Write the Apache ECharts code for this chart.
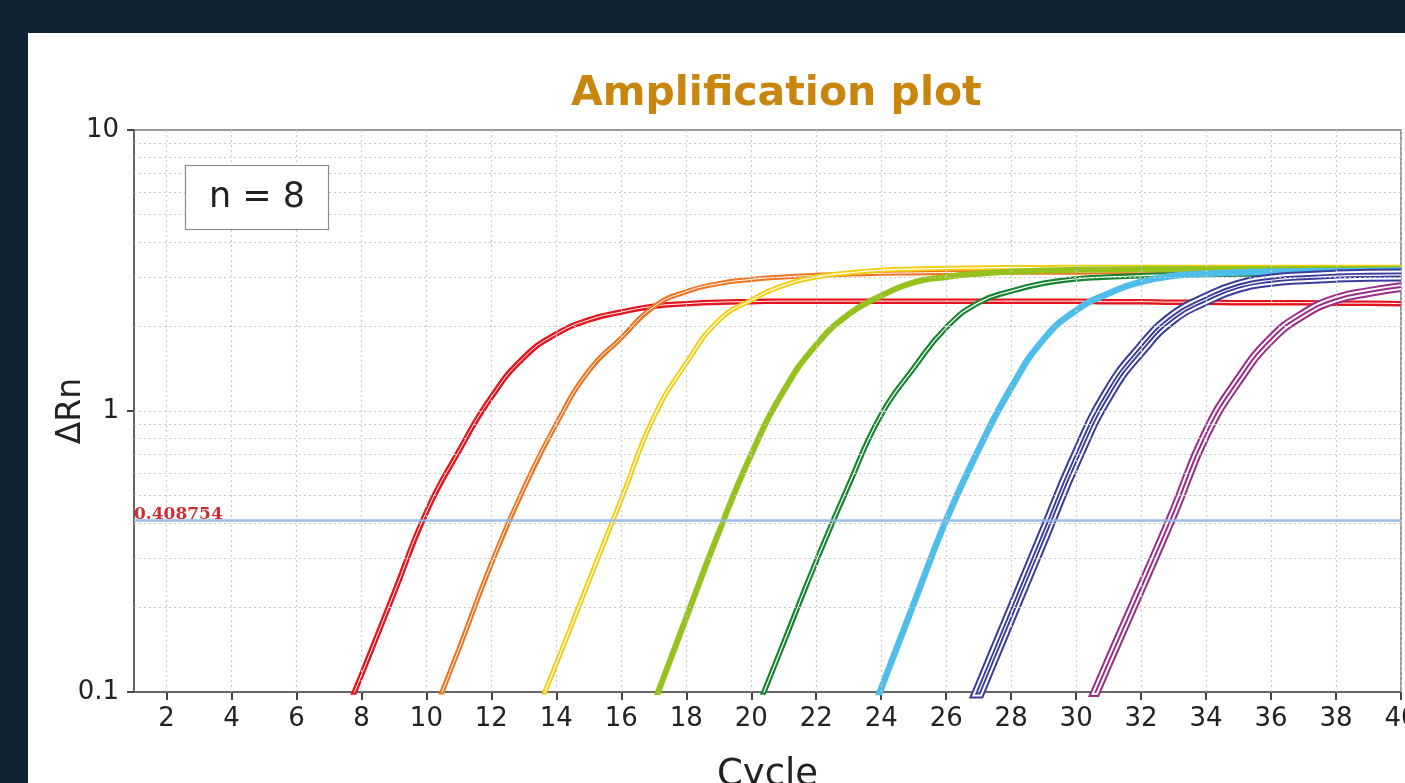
<!DOCTYPE html>
<html>
<head>
<meta charset="utf-8">
<title>Amplification plot</title>
<script src="https://cdn.jsdelivr.net/npm/echarts@6/dist/echarts.min.js"></script>
<style>
  html, body { margin: 0; padding: 0; background: #132233; width: 1405px; height: 783px; overflow: hidden; }
  #panel { position: absolute; left: 28px; top: 33px; width: 1377px; height: 750px; background: #fff; }
</style>
</head>
<body>
<div id="panel"></div>
<script>
// x = PCR cycle, y = delta Rn (log scale)
var cycles = [1, 2, 3, 4, 5, 6, 7, 8, 9, 10, 11, 12, 13, 14, 15, 16, 17, 18, 19, 20,
  21, 22, 23, 24, 25, 26, 27, 28, 29, 30, 31, 32, 33, 34, 35, 36, 37, 38, 39, 40];
var xTicks = [2, 4, 6, 8, 10, 12, 14, 16, 18, 20, 22, 24, 26, 28, 30, 32, 34, 36, 38, 40];
var yTicks = [0.1, 1, 10];
var minorGrid = [0.2, 0.3, 0.4, 0.5, 0.6, 0.7, 0.8, 0.9, 1, 2, 3, 4, 5, 6, 7, 8, 9];
var threshold = 0.408754;

// one read-off curve per dilution (null = not yet above the plot)
var red = [null, null, null, null, null, null, 0.06, 0.115, 0.224, 0.437,
  0.72, 1.12, 1.55, 1.88, 2.11, 2.25, 2.36, 2.41, 2.44, 2.45,
  2.46, 2.46, 2.46, 2.46, 2.46, 2.46, 2.46, 2.46, 2.46, 2.46,
  2.45, 2.45, 2.44, 2.44, 2.43, 2.43, 2.43, 2.42, 2.42, 2.41];
var orange = [null, null, null, null, null, null, null, null, null, 0.072,
  0.142, 0.286, 0.53, 0.90, 1.39, 1.82, 2.35, 2.66, 2.84, 2.94,
  3.0, 3.04, 3.07, 3.09, 3.10, 3.11, 3.11, 3.12, 3.12, 3.12,
  3.13, 3.13, 3.13, 3.13, 3.13, 3.13, 3.13, 3.13, 3.13, 3.13];
var yellow = [null, null, null, null, null, null, null, null, null, null,
  null, null, 0.065, 0.126, 0.248, 0.485, 0.95, 1.48, 2.10, 2.48,
  2.80, 3.0, 3.1, 3.17, 3.2, 3.22, 3.23, 3.24, 3.24, 3.25,
  3.25, 3.25, 3.25, 3.25, 3.25, 3.25, 3.25, 3.25, 3.25, 3.25];
var lime = [null, null, null, null, null, null, null, null, null, null,
  null, null, null, null, null, null, 0.091, 0.184, 0.37, 0.70,
  1.18, 1.72, 2.21, 2.57, 2.87, 3.0, 3.08, 3.13, 3.16, 3.18,
  3.19, 3.2, 3.2, 3.2, 3.2, 3.2, 3.2, 3.2, 3.2, 3.2];
var green = [null, null, null, null, null, null, null, null, null, null,
  null, null, null, null, null, null, null, null, null, 0.077,
  0.150, 0.292, 0.545, 0.97, 1.42, 1.98, 2.43, 2.67, 2.85, 2.95,
  3.0, 3.03, 3.05, 3.06, 3.07, 3.08, 3.08, 3.09, 3.09, 3.1];
var sky = [null, null, null, null, null, null, null, null, null, null,
  null, null, null, null, null, null, null, null, null, null,
  null, null, 0.052, 0.103, 0.206, 0.409, 0.73, 1.21, 1.80, 2.28,
  2.62, 2.88, 3.03, 3.08, 3.11, 3.13, 3.14, 3.15, 3.15, 3.16];
var navy = [null, null, null, null, null, null, null, null, null, null,
  null, null, null, null, null, null, null, null, null, null,
  null, null, null, null, null, 0.053, 0.1, 0.19, 0.36, 0.68,
  1.16, 1.66, 2.16, 2.50, 2.78, 2.92, 2.98, 3.02, 3.04, 3.05];
var purple = [null, null, null, null, null, null, null, null, null, null,
  null, null, null, null, null, null, null, null, null, null,
  null, null, null, null, null, null, null, null, null, 0.069,
  0.128, 0.235, 0.435, 0.83, 1.29, 1.80, 2.21, 2.50, 2.65, 2.76];

// stroke widths drawn on top of each other: colour, white, colour, ...
// gives the look of several replicate traces side by side
var groups = [
  { values: red, color: '#e3141b', layers: [5.5, 1] },
  { values: orange, color: '#ee7421', layers: [5, 1] },
  { values: yellow, color: '#f2cd0d', layers: [5, 1.2] },
  { values: lime, color: '#96c21e', layers: [6] },
  { values: green, color: '#17852e', layers: [5.5, 1.2] },
  { values: sky, color: '#4fbde9', layers: [6.5] },
  { values: navy, color: '#3a3c9c', layers: [13, 9, 5, 1.2] },
  { values: purple, color: '#9b2b89', layers: [10, 6, 2] }
];

var FONT = 'DejaVu Sans';

var chart = echarts.init(document.getElementById('panel'));

var series = [];

// dotted grid
series.push({
  type: 'line',
  data: [],
  silent: true,
  markLine: {
    silent: true,
    symbol: ['none', 'none'],
    label: { show: false },
    lineStyle: { color: '#c9c9c9', type: [2, 3], width: 1.2 },
    data: minorGrid.map(function (v) { return { yAxis: v }; })
      .concat(xTicks.map(function (v) { return { xAxis: v }; }))
  },
  z: 1
});

groups.forEach(function (g) {
  var pts = [];
  for (var i = 0; i < cycles.length; i++) {
    if (g.values[i] != null) pts.push([cycles[i], g.values[i]]);
  }
  g.layers.forEach(function (w, k) {
    series.push({
      type: 'line',
      data: pts,
      showSymbol: false,
      smooth: 0.5,
      silent: true,
      clip: true,
      lineStyle: { width: w, color: k % 2 ? '#ffffff' : g.color },
      z: 3
    });
  });
});

// threshold
series.push({
  type: 'line',
  data: [],
  silent: true,
  markLine: {
    silent: true,
    symbol: ['none', 'none'],
    lineStyle: { color: '#8db6e6', type: 'solid', width: 2.5, opacity: 0.9 },
    label: {
      show: true,
      position: 'insideStartTop',
      distance: [0, -3],
      formatter: String(threshold),
      color: '#c8161d',
      fontFamily: 'DejaVu Serif',
      fontWeight: 'bold',
      fontSize: 17
    },
    data: [{ yAxis: threshold }]
  },
  z: 5
});

var option = {
  animation: false,
  backgroundColor: '#ffffff',
  title: [{
    text: 'Amplification plot',
    left: 538,
    top: 36,
    textStyle: { color: '#c8860f', fontSize: 41, fontWeight: 'bold', fontFamily: FONT }
  }, {
    text: 'n = 8',
    left: 157,
    top: 132,
    padding: [15, 24],
    borderColor: '#8a8a8a',
    borderWidth: 1.2,
    backgroundColor: '#ffffff',
    textStyle: { color: '#222', fontSize: 35, fontWeight: 'normal', fontFamily: FONT },
    z: 10
  }],
  grid: {
    left: 106,
    top: 97,
    right: 4,
    bottom: 91,
    outerBoundsMode: 'none',
    containLabel: false,
    show: true,
    borderColor: '#7a7a7a',
    borderWidth: 1.5
  },
  xAxis: {
    type: 'value',
    min: 1,
    max: 40,
    name: 'Cycle',
    nameLocation: 'middle',
    nameGap: 65,
    nameTextStyle: { color: '#222', fontSize: 37, fontFamily: FONT },
    axisLine: { show: true, onZero: false, lineStyle: { color: '#666', width: 2 } },
    axisTick: { show: true, customValues: xTicks, length: 8, lineStyle: { color: '#444', width: 2 } },
    axisLabel: { customValues: xTicks, margin: 14, color: '#222', fontSize: 26, fontFamily: FONT },
    splitLine: { show: false }
  },
  yAxis: {
    type: 'log',
    logBase: 10,
    min: 0.1,
    max: 10,
    name: '\u0394Rn',
    nameLocation: 'middle',
    nameGap: 46,
    nameMoveOverlap: false,
    nameTextStyle: { color: '#222', fontSize: 33, fontFamily: FONT },
    axisLine: { show: true, lineStyle: { color: '#666', width: 2 } },
    axisTick: { show: true, customValues: yTicks, length: 7, lineStyle: { color: '#444', width: 2 } },
    axisLabel: { customValues: yTicks, margin: 15, color: '#222', fontSize: 26, fontFamily: FONT },
    splitLine: { show: false }
  },
  series: series
};

chart.setOption(option);
</script>
</body>
</html>
